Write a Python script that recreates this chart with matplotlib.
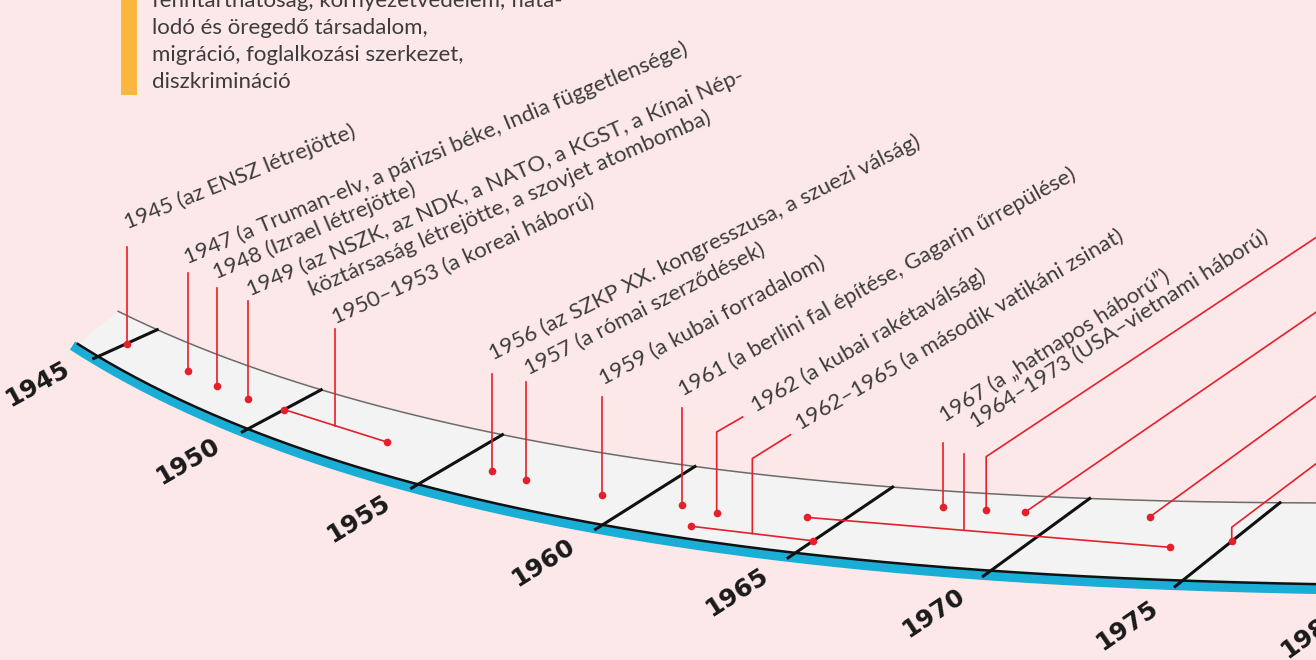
import numpy as np
import matplotlib
matplotlib.use("Agg")
import matplotlib.pyplot as plt

# ---- data -------------------------------------------------------------
header_lines = [
    "fenntarthatóság, környezetvédelem, fiata-",
    "lodó és öregedő társadalom,",
    "migráció, foglalkozási szerkezet,",
    "diszkrimináció",
]

tick_years = [1945, 1950, 1955, 1960, 1965, 1970, 1975, 1980]

event_labels = [
    "1945 (az ENSZ létrejötte)",
    "1947 (a Truman-elv, a párizsi béke, India függetlensége)",
    "1948 (Izrael létrejötte)",
    "1949 (az NSZK, az NDK, a NATO, a KGST, a Kínai Nép-\nköztársaság létrejötte, a szovjet atombomba)",
    "1950–1953 (a koreai háború)",
    "1956 (az SZKP XX. kongresszusa, a szuezi válság)",
    "1957 (a római szerződések)",
    "1959 (a kubai forradalom)",
    "1961 (a berlini fal építése, Gagarin űrrepülése)",
    "1962 (a kubai rakétaválság)",
    "1962–1965 (a második vatikáni zsinat)",
    "1967 (a „hatnapos háború”)",
    "1964–1973 (USA–vietnami háború)",
    "", "", "", "",
]
# where each marker sits on the time strip
mark_start = [1945, 1947, 1948, 1949, 1950, 1956, 1957, 1959, 1961, 1962,
              1961.9, 1966.8, 1964.1, 1967.9, 1968.9, 1972.1, 1975]
mark_end = [None, None, None, None, 1953, None, None, None, None, None,
            1965, None, 1973.6, None, None, None, None]

# ---- layout -----------------------------------------------------------
# projection of the strip: foot and head of the year ticks, in pixels
anchor_years = [1945, 1950, 1955, 1960, 1965, 1970, 1975]
foot_x = [95, 240, 410, 600, 789, 979, 1177]
foot_y = [359, 431, 487, 532, 557, 575, 587]
head_x = [159, 318, 500, 702, 892, 1085, 1282]
head_y = [330, 389, 435, 467, 487, 498, 503]

# lane across the strip (0 = tick foot, 1 = upper edge)
lane_start = [0.52, 0.54, 0.50, 0.49, 0.53, 0.48, 0.45, 0.45, 0.48, 0.44,
              0.23, 0.80, 0.52, 0.80, 0.80, 0.80, 0.54]
lane_end = [0, 0, 0, 0, 0.52, 0, 0, 0, 0, 0, 0.24, 0, 0.45, 0, 0, 0, 0]
junction = [0, 0, 0, 0, 0.5, 0, 0, 0, 0, 0, 0.5, 0, 0.434, 0, 0, 0, 0]
# connector: vertical rise, diagonal length, diagonal angle, label dx, label dy
conn = [
    (97, 0, 0, 1, -17),
    (98, 0, 0, -1, -9),
    (98, 0, 0, 0, -9),
    (98, 0, 0, 2, -5),
    (97, 0, 0, 0, -5),
    (97, 0, 0, 1, -13),
    (98, 0, 0, 2, -7),
    (98, 0, 0, 2, -11),
    (97, 0, 0, 1, -11),
    (81, 30, 30, 13, -4),
    (75, 45, 32, 10, -4),
    (64, 0, 0, 2, -20),
    (76, 0, 0, 11, -26),
    (53, 450, 33.6, 0, 0),
    (0, 420, 34.5, 0, 0),
    (0, 300, 36, 0, 0),
    (14, 150, 37, 0, 0),
]

BG = "#fde8e9"
RED = "#e4202b"
TXT = "#3c3c3c"
BLUE = "#1aadd6"
FONT = ["Lato", "DejaVu Sans"]
LABEL_SIZE = 16

u = (np.array(anchor_years) - 1960) / 10.0
cfx = np.polyfit(u, foot_x, 3)
cfy = np.polyfit(u, foot_y, 3)
chx = np.polyfit(u, head_x, 3)
chy = np.polyfit(u, head_y, 3)


def strip(t, v):
    s = (np.asarray(t, dtype=float) - 1960) / 10.0
    fx, fy = np.polyval(cfx, s), np.polyval(cfy, s)
    hx, hy = np.polyval(chx, s), np.polyval(chy, s)
    return fx + v * (hx - fx), fy + v * (hy - fy)


fig = plt.figure(figsize=(13.16, 6.6), dpi=100)
fig.patch.set_facecolor(BG)
ax = fig.add_axes([0, 0, 1, 1])
ax.set_xlim(0, 1316)
ax.set_ylim(660, 0)
ax.axis("off")

# header block
ax.add_patch(plt.Rectangle((121, -5), 16, 100, color="#fbb63e", lw=0))
for i, line in enumerate(header_lines):
    ax.text(152, 7 + 27 * i, line, fontsize=16, color=TXT, family=FONT,
            va="baseline", ha="left")

# the strip
t_low = np.linspace(1944.25, 1981.5, 300)
t_up = np.linspace(1943.7, 1981.5, 300)
bx, by = strip(t_low, 0.07)
gx, gy = strip(t_up, 1.0)
ax.fill(np.r_[bx, gx[::-1]], np.r_[by, gy[::-1]], color="#f3f3f3", lw=0, zorder=1)
tb = np.linspace(1944.05, 1981.5, 300)
blx, bly = strip(tb, 0.07)
ax.plot(blx, bly + 5, color=BLUE, lw=7, solid_capstyle="butt", zorder=2)
ax.plot(bx, by, color="#111111", lw=1.8, zorder=3)
ax.plot(gx, gy, color="#6b6b6b", lw=1.1, zorder=3)

for yr in tick_years:
    fx, fy = strip(yr, 0.0)
    hx, hy = strip(yr, 1.0)
    ax.plot([fx, hx], [fy, hy], color="#111111", lw=2.2, zorder=4)
    d = np.hypot(hx - fx, hy - fy)
    ang = np.degrees(np.arctan2(fy - hy, hx - fx))
    cx = fx - 62 * (hx - fx) / d
    cy = fy - 62 * (hy - fy) / d
    ax.text(cx, cy, str(yr), fontsize=18, fontweight="bold", color="#1a1a1a",
            family="DejaVu Sans", rotation=0.4 * ang + 19,
            rotation_mode="anchor", ha="center", va="center", zorder=5)

# width of the hanging indent ("1949 ") for the wrapped label
renderer = fig.canvas.get_renderer()
probe = ax.text(0, 0, "1949 ", fontsize=LABEL_SIZE, family=FONT)
indent = probe.get_window_extent(renderer).width
probe.remove()

# events
for i, lab in enumerate(event_labels):
    x0, y0 = strip(mark_start[i], lane_start[i])
    dots_x, dots_y = [x0], [y0]
    jx, jy = x0, y0
    if mark_end[i] is not None:
        x1, y1 = strip(mark_end[i], lane_end[i])
        ax.plot([x0, x1], [y0, y1], color=RED, lw=1.2, zorder=6)
        dots_x.append(x1)
        dots_y.append(y1)
        f = junction[i]
        jx, jy = x0 + f * (x1 - x0), y0 + f * (y1 - y0)
    rise, dlen, dang, ldx, ldy = conn[i]
    px = [jx, jx]
    py = [jy, jy - rise]
    if dlen:
        px.append(jx + dlen * np.cos(np.radians(dang)))
        py.append(jy - rise - dlen * np.sin(np.radians(dang)))
    ax.plot(px, py, color=RED, lw=1.2, zorder=6)
    ax.plot(dots_x, dots_y, "o", color=RED, ms=5.5, mec="none", zorder=7)
    if not lab:
        continue
    lx, ly = px[-1] + ldx, py[-1] + ldy
    rot = 22 + 0.0125 * (lx - 128)
    parts = lab.split("\n")
    ax.text(lx, ly, parts[0], fontsize=LABEL_SIZE, color=TXT, family=FONT,
            rotation=rot, rotation_mode="anchor", ha="left", va="baseline",
            zorder=8)
    if len(parts) > 1:
        th = np.radians(rot)
        sx = lx + indent * np.cos(th) + 25 * np.sin(th)
        sy = ly - indent * np.sin(th) + 25 * np.cos(th)
        ax.text(sx, sy, parts[1], fontsize=LABEL_SIZE, color=TXT, family=FONT,
                rotation=rot, rotation_mode="anchor", ha="left",
                va="baseline", zorder=8)

fig.savefig("out.png", dpi=100, facecolor=BG)
